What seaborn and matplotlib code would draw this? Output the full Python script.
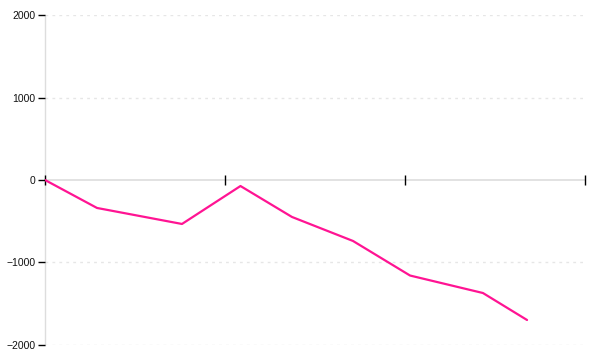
import matplotlib
matplotlib.use("Agg")
import matplotlib.pyplot as plt
import seaborn as sns
import pandas as pd

x_values = [0.0, 0.289, 0.761, 1.086, 1.372, 1.711, 2.028, 2.433, 2.678]
y_values = [0, -339, -533, -73, -448, -739, -1158, -1370, -1697]
y_ticks = [-2000, -1000, 0, 1000, 2000]
x_ticks = [0, 1, 2, 3]

sns.set_theme(style="white")
plt.rcParams['font.family'] = ['Liberation Sans', 'DejaVu Sans']

df = pd.DataFrame({"x": x_values, "y": y_values})

fig = plt.figure(figsize=(6, 3.6), dpi=100)
ax = fig.add_axes([0.075, 0.0417, 0.9, 0.9166])

# grid lines (dotted)
for yv in y_ticks:
    if yv != 0:
        ax.axhline(yv, color="#e6e6e6", linestyle=(0, (2, 3)), linewidth=1, zorder=0)

sns.lineplot(data=df, x="x", y="y", color="#ff1493", linewidth=1.6, ax=ax, zorder=3)

ax.set_xlim(0, 3)
ax.set_ylim(-2000, 2000)
ax.set_yticks(y_ticks)
ax.set_yticklabels([f"{v}".replace("-", "\u2212") for v in y_ticks])
ax.set_xticks(x_ticks)
ax.set_xticklabels([])
ax.set_xlabel("")
ax.set_ylabel("")

for s in ["top", "right"]:
    ax.spines[s].set_visible(False)
ax.spines["left"].set_color("#dddddd")
ax.spines["left"].set_linewidth(1)
ax.spines["bottom"].set_position(("data", 0))
ax.spines["bottom"].set_color("#dddddd")
ax.spines["bottom"].set_linewidth(1.2)

ax.tick_params(axis="y", left=True, length=5, width=1, color="black",
               labelsize=7.5, labelcolor="#111111", pad=2)
ax.tick_params(axis="x", bottom=True, direction="inout", length=7, width=1, color="black")

for sp in ax.spines.values():
    sp.set_zorder(1)
ax.xaxis.set_zorder(2)
ax.yaxis.set_zorder(2)

fig.savefig("out.png", dpi=100)
